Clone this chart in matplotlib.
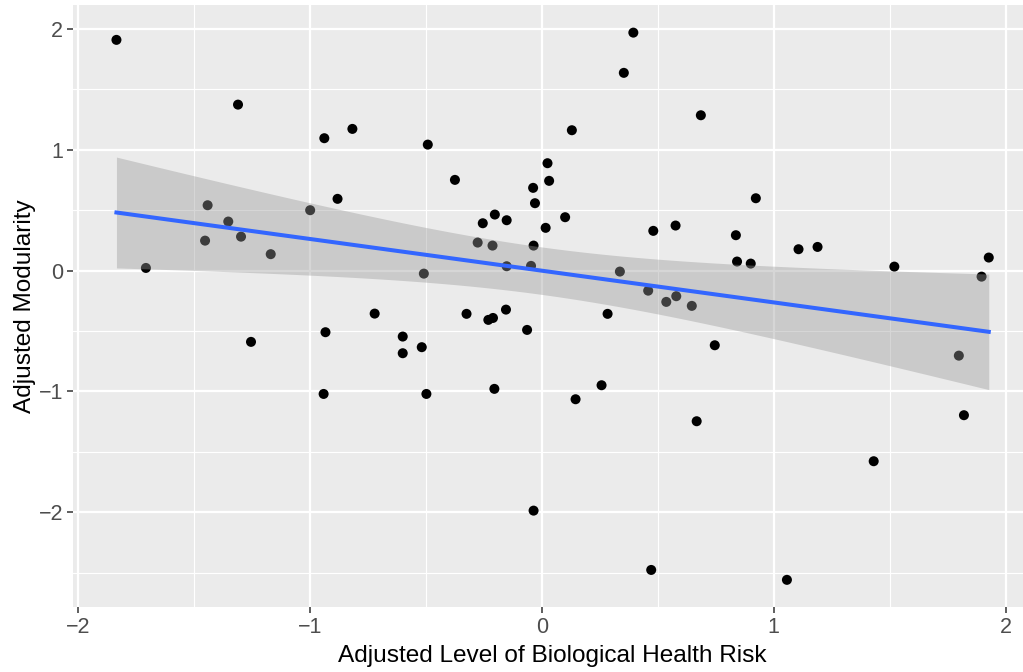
import numpy as np
import matplotlib
matplotlib.use("Agg")
import matplotlib.pyplot as plt
from matplotlib.ticker import MultipleLocator, FuncFormatter

x_risk = [-1.833, -1.309, -0.937, -0.816, -0.880, -1.440, -0.998, -1.351, -1.451, -1.296,
          -1.168, -1.706, 0.395, 0.354, 0.686, 0.130, -0.491, -0.374, 0.025, 0.032,
          -0.037, -0.029, -0.254, -0.202, -0.151, 0.101, 0.017, 0.481, 0.577, -0.276,
          -0.212, -0.035, -0.508, -0.151, -0.046, 0.337, 0.459, 0.537, 0.580, 0.647,
          0.923, 0.837, 0.842, 0.901, 1.107, 1.189, 1.520, 1.927, 1.896, -0.720,
          -0.932, -1.253, -0.940, -0.324, -0.230, -0.210, -0.154, -0.063, 0.284, -0.599,
          -0.599, -0.517, -0.497, -0.204, 0.146, 0.258, 0.668, -0.035, 0.472, 0.746,
          1.798, 1.820, 1.431, 1.057]
y_mod = [1.910, 1.374, 1.096, 1.173, 0.594, 0.541, 0.500, 0.406, 0.248, 0.281,
         0.136, 0.022, 1.970, 1.637, 1.286, 1.162, 1.043, 0.751, 0.889, 0.743,
         0.685, 0.558, 0.392, 0.464, 0.417, 0.442, 0.354, 0.329, 0.373, 0.232,
         0.207, 0.207, -0.025, 0.036, 0.039, -0.008, -0.166, -0.259, -0.212, -0.292,
         0.599, 0.293, 0.075, 0.058, 0.177, 0.196, 0.033, 0.108, -0.050, -0.356,
         -0.510, -0.590, -1.021, -0.358, -0.408, -0.392, -0.323, -0.491, -0.358, -0.546,
         -0.684, -0.634, -1.021, -0.979, -1.065, -0.949, -1.247, -1.987, -2.478, -0.618,
         -0.704, -1.197, -1.578, -2.560]

xlabel = "Adjusted Level of Biological Health Risk"
ylabel = "Adjusted Modularity"

x = np.array(x_risk)
y = np.array(y_mod)

# linear fit with 95% confidence band (like geom_smooth(method="lm"))
n = len(x)
b1, b0 = np.polyfit(x, y, 1)
resid = y - (b0 + b1 * x)
s = np.sqrt(np.sum(resid**2) / (n - 2))
xm = x.mean()
sxx = np.sum((x - xm)**2)
xs = np.linspace(x.min(), x.max(), 80)
ys = b0 + b1 * xs
se = s * np.sqrt(1.0 / n + (xs - xm)**2 / sxx)
tval = 1.9935
lo = ys - tval * se
hi = ys + tval * se

plt.rcParams['font.family'] = ['Liberation Sans', 'DejaVu Sans']
W, H = 1023, 672
fig = plt.figure(figsize=(W / 100, H / 100), dpi=100)

xr = x.max() - x.min()
yr = y.max() - y.min()
xlim = (x.min() - 0.05 * xr, x.max() + 0.05 * xr)
ylim = (y.min() - 0.05 * yr, y.max() + 0.05 * yr)

# panel geometry in pixels (panel runs slightly past the right edge, as in the reference)
pxu_x = 232.0
pxu_y = 120.8
left_px = 77.7 + (xlim[0] + 2) * pxu_x
width_px = (xlim[1] - xlim[0]) * pxu_x
top_px = 29.0 - (ylim[1] - 2) * pxu_y
height_px = (ylim[1] - ylim[0]) * pxu_y
ax = fig.add_axes([left_px / W, 1 - (top_px + height_px) / H, width_px / W, height_px / H])
ax.set_facecolor('#EBEBEB')
for sp in ax.spines.values():
    sp.set_visible(False)

ax.xaxis.set_major_locator(MultipleLocator(1))
ax.xaxis.set_minor_locator(MultipleLocator(0.5))
ax.yaxis.set_major_locator(MultipleLocator(1))
ax.yaxis.set_minor_locator(MultipleLocator(0.5))
ax.grid(which='major', color='white', linewidth=1.6)
ax.grid(which='minor', color='white', linewidth=0.8)
ax.set_axisbelow(True)

ax.scatter(x, y, s=52, color='black', edgecolors='none', zorder=2)
ax.fill_between(xs, lo, hi, color='#999999', alpha=0.4, linewidth=0, zorder=3)
ax.plot(xs, ys, color='#3366FF', linewidth=2.9, zorder=4)

ax.set_xlim(*xlim)
ax.set_ylim(*ylim)

ax.tick_params(which='major', length=4, width=1.1, color='#333333',
               labelsize=15.5, labelcolor='#4D4D4D', pad=3)
ax.tick_params(which='minor', length=0)
fmt = FuncFormatter(lambda v, p: f"{int(round(v))}".replace('-', '\u2212'))
ax.xaxis.set_major_formatter(fmt)
ax.yaxis.set_major_formatter(fmt)

ax.set_xlabel(xlabel, fontsize=17.6, color='black', labelpad=5)
ax.set_ylabel(ylabel, fontsize=17.6, color='black', labelpad=2)

fig.savefig('out.png', dpi=100)
